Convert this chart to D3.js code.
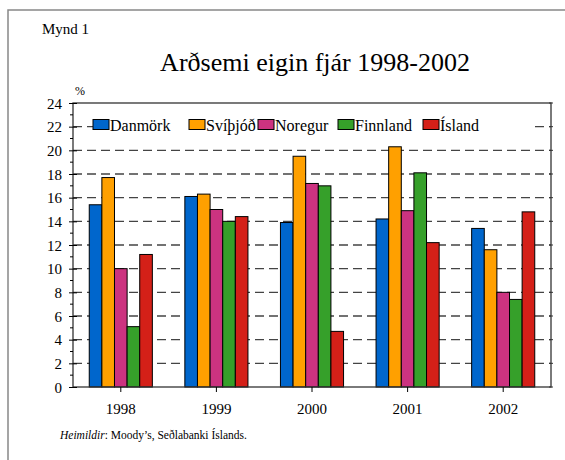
<!DOCTYPE html>
<html>
<head>
<meta charset="utf-8">
<script src="https://cdn.jsdelivr.net/npm/d3@7"></script>
<style>
  body { margin: 0; background: #fff; }
  svg text { font-family: "Liberation Serif", "Times New Roman", serif; fill: #000; }
</style>
</head>
<body>
<svg id="chart" width="565" height="460"></svg>
<script>
// data
var years = ["1998", "1999", "2000", "2001", "2002"];
var countries = ["Danmörk", "Svíþjóð", "Noregur", "Finnland", "Ísland"];
var colors = ["#0066cc", "#ffa000", "#cc3380", "#36a02a", "#d42018"];
var danmork  = [15.4, 16.1, 13.9, 14.2, 13.4];
var svithjod = [17.7, 16.3, 19.5, 20.3, 11.6];
var noregur  = [10.0, 15.0, 17.2, 14.9, 8.0];
var finnland = [5.1, 14.0, 17.0, 18.1, 7.4];
var island   = [11.2, 14.4, 4.7, 12.2, 14.8];
var yTicks = [0, 2, 4, 6, 8, 10, 12, 14, 16, 18, 20, 22, 24];

var series = [danmork, svithjod, noregur, finnland, island];

(function() {
var svg = d3.select("#chart");
var pLeft = 73, pRight = 551, pTop = 103, pBottom = 387;
var serif = "Liberation Serif";

// outer frame
svg.append("rect")
    .attr("x", 8).attr("y", 10)
    .attr("width", 570).attr("height", 470)
    .attr("fill", "none")
    .attr("stroke", "#888")
    .attr("stroke-width", 1.5);

svg.append("text").attr("x", 42).attr("y", 34)
    .attr("font-size", 15).text("Mynd 1");

svg.append("text").attr("x", 315).attr("y", 71)
    .attr("text-anchor", "middle")
    .attr("font-size", 26).text("Arðsemi eigin fjár 1998-2002");

svg.append("text").attr("x", 75).attr("y", 95)
    .attr("font-size", 12).text("%");

var x0 = d3.scaleBand().domain(years).range([pLeft, pRight])
    .paddingInner(0.34).paddingOuter(0.17);
var x1 = d3.scaleBand().domain(countries).range([0, x0.bandwidth()]);
var y = d3.scaleLinear().domain([0, 24]).range([pBottom, pTop]);

// dashed gridlines
svg.append("g").selectAll("line")
    .data(yTicks.filter(function(d) { return d > 0 && d < 24; }))
    .enter().append("line")
    .attr("x1", pLeft).attr("x2", pRight)
    .attr("y1", function(d) { return y(d); })
    .attr("y2", function(d) { return y(d); })
    .attr("stroke", "#444")
    .attr("stroke-width", 1.3)
    .attr("stroke-dasharray", "9,5");

// bars
var groups = svg.append("g").selectAll("g")
    .data(years)
    .enter().append("g")
    .attr("transform", function(d) { return "translate(" + x0(d) + ",0)"; });

groups.selectAll("rect")
    .data(function(d, i) {
        return countries.map(function(c, j) { return {c: c, j: j, v: series[j][i]}; });
    })
    .enter().append("rect")
    .attr("x", function(d) { return x1(d.c); })
    .attr("width", x1.bandwidth())
    .attr("y", function(d) { return y(d.v); })
    .attr("height", function(d) { return y(0) - y(d.v); })
    .attr("fill", function(d) { return colors[d.j]; })
    .attr("stroke", "#000")
    .attr("stroke-width", 1);

// legend box
var lg = svg.append("g");
lg.append("rect").attr("x", 95).attr("y", 113)
    .attr("width", 438).attr("height", 26).attr("fill", "#fff");
var legendX = [93, 189, 258, 338, 423];
countries.forEach(function(c, i) {
    lg.append("rect").attr("x", legendX[i]).attr("y", 119.5)
        .attr("width", 16).attr("height", 10)
        .attr("fill", colors[i]).attr("stroke", "#000").attr("stroke-width", 1);
    lg.append("text").attr("x", legendX[i] + 17).attr("y", 130.5)
        .attr("font-family", serif)
        .attr("font-size", 16).text(c);
});

// frame of plot
svg.append("rect")
    .attr("x", pLeft).attr("y", pTop)
    .attr("width", pRight - pLeft).attr("height", pBottom - pTop)
    .attr("fill", "none").attr("stroke", "#333").attr("stroke-width", 1.3);

// y axis
var yAxis = d3.axisLeft(y).tickValues(yTicks).tickSize(4).tickSizeOuter(0);
var ya = svg.append("g").attr("transform", "translate(" + pLeft + ",0)").call(yAxis);
ya.select(".domain").remove();
ya.selectAll(".tick line").attr("x2", 4).attr("x1", -4).attr("stroke", "#000");
ya.selectAll(".tick text").attr("x", -11).attr("dy", "0.35em")
    .attr("font-size", 15).attr("font-family", serif);

// minor ticks
var minor = d3.range(1, 24, 2);
svg.append("g").selectAll("line").data(minor).enter().append("line")
    .attr("x1", pLeft - 3).attr("x2", pLeft)
    .attr("y1", function(d) { return y(d); }).attr("y2", function(d) { return y(d); })
    .attr("stroke", "#000");

// right axis ticks
svg.append("g").selectAll("line").data(yTicks).enter().append("line")
    .attr("x1", pRight - 2).attr("x2", pRight + 2)
    .attr("y1", function(d) { return y(d); }).attr("y2", function(d) { return y(d); })
    .attr("stroke", "#333");

// x axis
var xAxis = d3.axisBottom(x0).tickSize(5).tickSizeOuter(0);
var xa = svg.append("g").attr("transform", "translate(0," + pBottom + ")").call(xAxis);
xa.select(".domain").remove();
xa.selectAll(".tick line").attr("stroke", "#000");
xa.selectAll(".tick text").attr("y", 16).attr("dy", "0.71em")
    .attr("font-size", 15).attr("font-family", serif);

// source
var src = svg.append("text").attr("x", 60).attr("y", 439).attr("font-size", 11.5);
src.append("tspan").attr("font-style", "italic").text("Heimildir");
src.append("tspan").text(": Moody’s, Seðlabanki Íslands.");
})();
</script>
</body>
</html>
